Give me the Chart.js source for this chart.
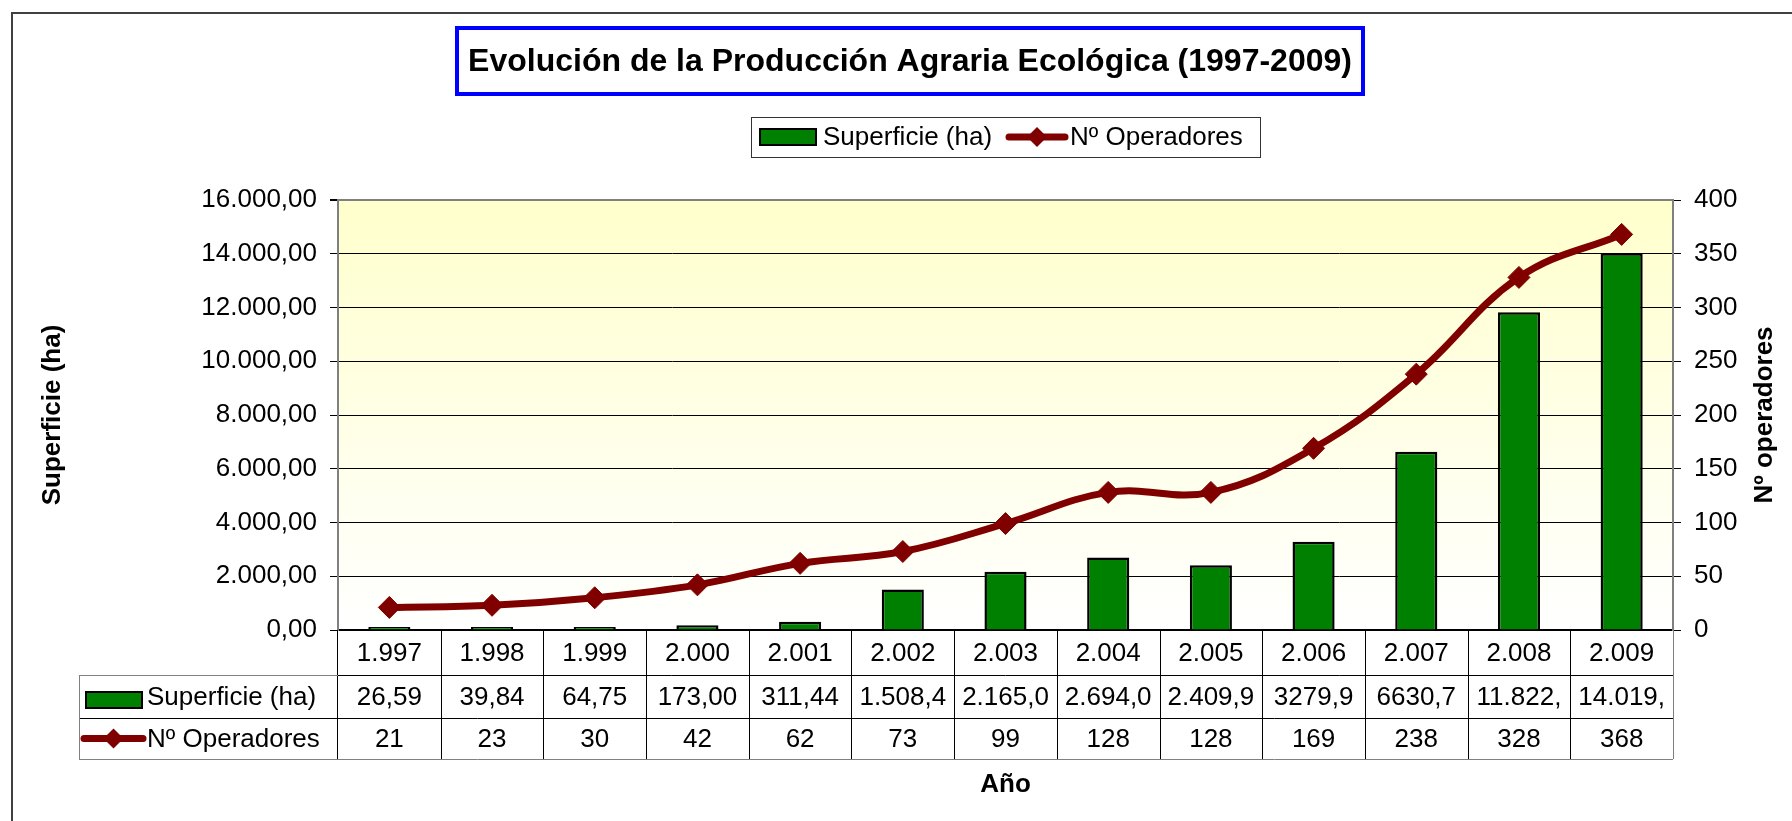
<!DOCTYPE html>
<html>
<head>
<meta charset="utf-8">
<script src="https://cdn.jsdelivr.net/npm/chart.js@4"></script>
<style>
  html, body { margin: 0; padding: 0; background: #fff; }
  #wrap { width: 1792px; height: 821px; }
</style>
</head>
<body>
<div id="wrap"><canvas id="chart" width="1792" height="821"></canvas></div>
<script>
// Data
const years = ['1.997', '1.998', '1.999', '2.000', '2.001', '2.002', '2.003', '2.004', '2.005', '2.006', '2.007', '2.008', '2.009'];
const superficie = [26.59, 39.84, 64.75, 173.00, 311.44, 1508.4, 2165.0, 2694.0, 2409.9, 3279.9, 6630.7, 11822, 14019];
const superficieText = ['26,59', '39,84', '64,75', '173,00', '311,44', '1.508,4', '2.165,0', '2.694,0', '2.409,9', '3279,9', '6630,7', '11.822,', '14.019,'];
const operadores = [21, 23, 30, 42, 62, 73, 99, 128, 128, 169, 238, 328, 368];

const titleText = 'Evolución de la Producción Agraria Ecológica (1997-2009)';
const seriesNames = ['Superficie (ha)', 'Nº Operadores'];

const GREEN = '#008000';
const MAROON = '#800000';
const FONT = 'Arial, "Liberation Sans", sans-serif';

Chart.defaults.font.family = FONT;
Chart.defaults.font.size = 26;
Chart.defaults.color = '#000';

function fmtEs(v) {
  const parts = v.toFixed(2).split('.');
  parts[0] = parts[0].replace(/\B(?=(\d{3})+(?!\d))/g, '.');
  return parts.join(',');
}

function diamond(ctx, x, y, r) {
  ctx.beginPath();
  ctx.moveTo(x - r, y);
  ctx.lineTo(x, y - r);
  ctx.lineTo(x + r, y);
  ctx.lineTo(x, y + r);
  ctx.closePath();
  ctx.fill();
}

function barSwatch(ctx, x, y, w, h) {
  ctx.fillStyle = GREEN;
  ctx.fillRect(x, y, w, h);
  ctx.strokeStyle = '#000';
  ctx.lineWidth = 2;
  ctx.strokeRect(x, y, w, h);
}

function lineSwatch(ctx, x1, x2, y) {
  ctx.strokeStyle = MAROON;
  ctx.lineWidth = 7;
  ctx.lineCap = 'round';
  ctx.beginPath();
  ctx.moveTo(x1, y);
  ctx.lineTo(x2, y);
  ctx.stroke();
  ctx.lineCap = 'butt';
  ctx.fillStyle = MAROON;
  diamond(ctx, (x1 + x2) / 2, y, 10);
}

function hline(ctx, x1, x2, y, color) {
  ctx.strokeStyle = color;
  ctx.lineWidth = 1;
  ctx.beginPath();
  ctx.moveTo(x1, y + 0.5);
  ctx.lineTo(x2, y + 0.5);
  ctx.stroke();
}

function vline(ctx, x, y1, y2, color) {
  ctx.strokeStyle = color;
  ctx.lineWidth = 1;
  ctx.beginPath();
  ctx.moveTo(x + 0.5, y1);
  ctx.lineTo(x + 0.5, y2);
  ctx.stroke();
}

const decor = {
  id: 'decor',
  beforeDraw(chart) {
    const ctx = chart.ctx;
    const a = chart.chartArea;
    ctx.save();
    ctx.fillStyle = '#fff';
    ctx.fillRect(0, 0, chart.width, chart.height);
    // plot area gradient
    const g = ctx.createLinearGradient(0, a.top, 0, a.bottom);
    g.addColorStop(0, '#FFFFCC');
    g.addColorStop(1, '#FFFFFF');
    ctx.fillStyle = g;
    ctx.fillRect(a.left, a.top, a.right - a.left, a.bottom - a.top);
    ctx.restore();
  },
  afterDraw(chart) {
    const ctx = chart.ctx;
    const a = chart.chartArea;
    const x = chart.scales.x;
    ctx.save();

    // outer frame (continues past the canvas)
    ctx.strokeStyle = '#404040';
    ctx.lineWidth = 2;
    ctx.beginPath();
    ctx.moveTo(12, chart.height + 5);
    ctx.lineTo(12, 13);
    ctx.lineTo(chart.width + 5, 13);
    ctx.stroke();

    // title box
    ctx.strokeStyle = '#0000FF';
    ctx.lineWidth = 4;
    ctx.strokeRect(457, 28, 906, 66);
    ctx.fillStyle = '#000';
    ctx.font = 'bold 32px ' + FONT;
    ctx.textAlign = 'center';
    ctx.textBaseline = 'middle';
    ctx.fillText(titleText, 910, 62);

    // legend box
    ctx.strokeStyle = '#333';
    ctx.lineWidth = 1;
    ctx.strokeRect(751.5, 117.5, 509, 40);
    ctx.font = '26px ' + FONT;
    ctx.textAlign = 'left';
    barSwatch(ctx, 760, 129, 56, 16);
    ctx.fillStyle = '#000';
    ctx.fillText(seriesNames[0], 823, 138);
    lineSwatch(ctx, 1009, 1065, 137);
    ctx.fillStyle = '#000';
    ctx.fillText(seriesNames[1], 1070, 138);

    // axis titles
    ctx.font = 'bold 26px ' + FONT;
    ctx.textAlign = 'center';
    ctx.save();
    ctx.translate(53, (a.top + a.bottom) / 2);
    ctx.rotate(-Math.PI / 2);
    ctx.fillText('Superficie (ha)', 0, 0);
    ctx.restore();
    ctx.save();
    ctx.translate(1765, (a.top + a.bottom) / 2);
    ctx.rotate(-Math.PI / 2);
    ctx.fillText('Nº operadores', 0, 0);
    ctx.restore();
    ctx.fillText('Año', (a.left + a.right) / 2, a.bottom + 155);

    // data table under the x axis
    const n = years.length;
    const step = x.getPixelForValue(1) - x.getPixelForValue(0);
    const b = a.bottom;
    const r1 = b + 45, r2 = b + 88, r3 = b + 129;
    const legendLeft = 79;
    for (let i = 0; i <= n; i++) {
      const xb = Math.round(x.getPixelForValue(i) - step / 2);
      const col = (i === n) ? '#808080' : '#000';
      if (i === 0) vline(ctx, xb - 1, b, r3, '#000');
      else vline(ctx, xb, b, r3, col);
    }
    hline(ctx, legendLeft, a.left, r1, '#808080');
    hline(ctx, a.left, a.right, r1, '#000');
    hline(ctx, legendLeft, a.right, r2, '#000');
    hline(ctx, legendLeft, a.right, r3, '#808080');
    vline(ctx, legendLeft, r1, r3, '#808080');

    ctx.font = '26px ' + FONT;
    ctx.fillStyle = '#000';
    ctx.textAlign = 'center';
    for (let i = 0; i < n; i++) {
      const cx = x.getPixelForValue(i);
      ctx.fillText(years[i], cx, (b + r1) / 2 + 1);
      ctx.fillText(superficieText[i], cx, (r1 + r2) / 2 + 1);
      ctx.fillText(String(operadores[i]), cx, (r2 + r3) / 2 + 1);
    }
    ctx.textAlign = 'left';
    barSwatch(ctx, 86, 692, 56, 16);
    ctx.fillStyle = '#000';
    ctx.fillText(seriesNames[0], 147, (r1 + r2) / 2 + 1);
    lineSwatch(ctx, 84, 143, (r2 + r3) / 2);
    ctx.fillStyle = '#000';
    ctx.fillText(seriesNames[1], 147, (r2 + r3) / 2 + 1);

    ctx.restore();
  }
};

new Chart(document.getElementById('chart'), {
  type: 'bar',
  data: {
    labels: years,
    datasets: [
      {
        type: 'line',
        label: seriesNames[1],
        data: operadores,
        yAxisID: 'y1',
        borderColor: MAROON,
        backgroundColor: MAROON,
        borderWidth: 7,
        tension: 0.4,
        pointStyle: 'rectRot',
        pointRadius: 11,
        pointBackgroundColor: MAROON,
        pointBorderColor: MAROON,
        pointBorderWidth: 1,
        order: 0
      },
      {
        type: 'bar',
        label: seriesNames[0],
        data: superficie,
        yAxisID: 'y',
        backgroundColor: GREEN,
        borderColor: '#000',
        borderWidth: 2.5,
        minBarLength: 3,
        barPercentage: 0.41,
        categoryPercentage: 1.0,
        order: 1
      }
    ]
  },
  options: {
    responsive: false,
    animation: false,
    events: [],
    layout: { padding: { left: 0, right: 0, top: 200, bottom: 0 } },
    plugins: {
      legend: { display: false },
      title: { display: false },
      tooltip: { enabled: false }
    },
    scales: {
      x: {
        offset: true,
        ticks: { display: false },
        grid: { display: false },
        border: { display: true, color: '#000', width: 2 },
        afterFit(s) { s.height = 191; }
      },
      y: {
        position: 'left',
        min: 0,
        max: 16000,
        ticks: {
          stepSize: 2000,
          padding: 13,
          color: '#000',
          callback: v => fmtEs(v)
        },
        grid: {
          color: c => (c.tick && c.tick.value === 16000) ? '#808080' : '#000',
          lineWidth: c => (c.tick && c.tick.value === 16000) ? 2 : 1,
          tickLength: 8,
          tickColor: '#000'
        },
        border: { color: '#808080', width: 2 },
        afterFit(s) { s.width = 338; }
      },
      y1: {
        position: 'right',
        min: 0,
        max: 400,
        ticks: { stepSize: 50, padding: 13, color: '#000' },
        grid: { drawOnChartArea: false, tickLength: 8, color: '#000' },
        border: { color: '#808080', width: 2 },
        afterFit(s) { s.width = 119; }
      }
    }
  },
  plugins: [decor]
});
</script>
</body>
</html>
